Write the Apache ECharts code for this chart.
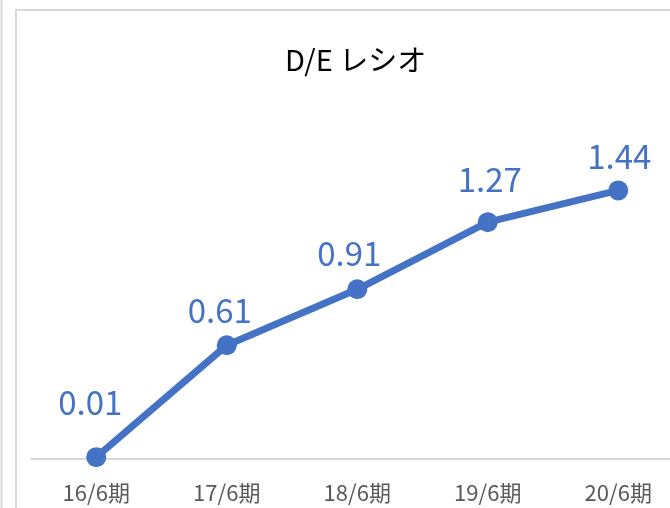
<!DOCTYPE html>
<html>
<head>
<meta charset="utf-8">
<script src="https://cdn.jsdelivr.net/npm/echarts@6/dist/echarts.min.js"></script>
<style>html,body{margin:0;padding:0;background:#fff;}#c{width:670px;height:508px;}</style>
</head>
<body>
<div id="c"></div>
<script>
const titleText = 'D/E レシオ';
const categories = ['16/6期', '17/6期', '18/6期', '19/6期', '20/6期'];
const deRatio = [0.01, 0.61, 0.91, 1.27, 1.44];

// label placement (layout only): [dx, dy] from the point centre
const labelShift = [[-6, -55], [-7, -35], [-8, -36], [2, -43], [1, -34]];

const chart = echarts.init(document.getElementById('c'));
const seriesData = deRatio.map((v, i) => ({
  value: v,
  label: { offset: labelShift[i] }
}));

chart.setOption({
  animation: false,
  backgroundColor: '#ffffff',
  title: {
    text: titleText,
    left: 280,
    top: 40,
    textStyle: { fontFamily: 'Noto Sans CJK JP', fontSize: 29, fontWeight: 'normal', color: '#000000' }
  },
  graphic: [
    { type: 'line', shape: { x1: 1.5, y1: 0, x2: 1.5, y2: 508 }, style: { stroke: '#d9d9d9', lineWidth: 2 } },
    { type: 'rect', shape: { x: 16, y: 10, width: 720, height: 560 }, style: { stroke: '#d9d9d9', lineWidth: 2, fill: 'none' } }
  ],
  grid: { left: 31, width: 652.5, top: 86, height: 373, containLabel: false, outerBoundsMode: 'none' },
  xAxis: {
    type: 'category',
    data: categories,
    boundaryGap: true,
    axisLine: { lineStyle: { color: '#d9d9d9', width: 2 } },
    axisTick: { show: false },
    axisLabel: { margin: 23, fontFamily: 'Noto Sans CJK JP', fontSize: 22, color: '#595959' }
  },
  yAxis: {
    type: 'value', min: 0, max: 2, show: false,
    splitLine: { show: false }
  },
  series: [{
    type: 'line',
    data: seriesData,
    symbol: 'circle',
    symbolSize: 20,
    itemStyle: { color: '#4472C4' },
    lineStyle: { color: '#4472C4', width: 7 },
    label: {
      show: true,
      position: 'inside',
      formatter: p => p.value.toFixed(2),
      fontFamily: 'Noto Sans CJK JP',
      fontSize: 33,
      color: '#4472C4'
    }
  }]
});
</script>
</body>
</html>
